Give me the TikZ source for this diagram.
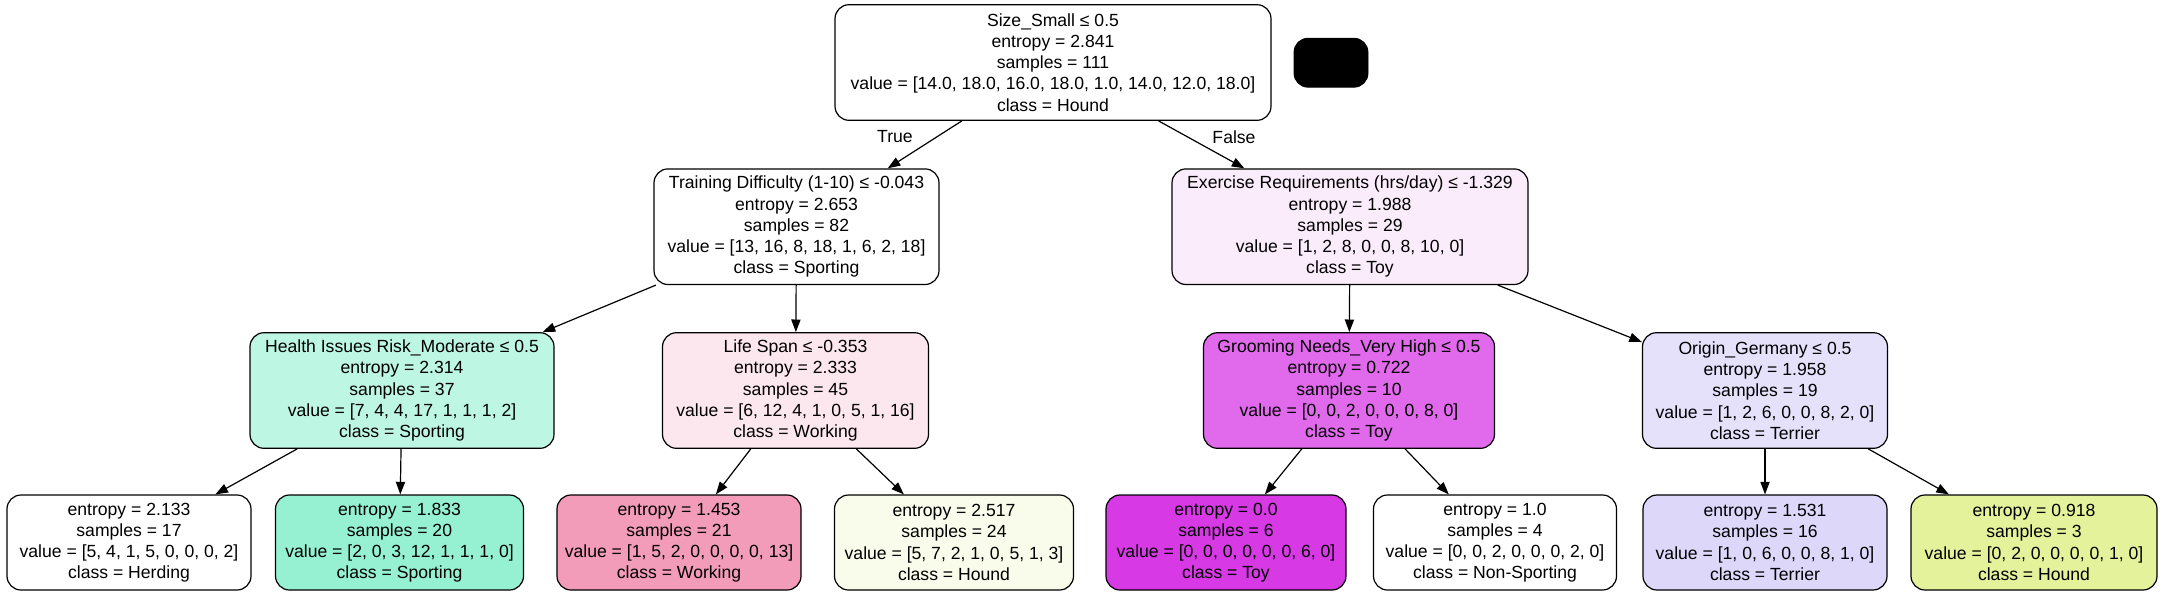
\documentclass[tikz,border=0pt]{standalone}
\usepackage{fontspec}
\setmainfont{Liberation Sans}
\usetikzlibrary{arrows.meta}
\newcommand\treefnt{\fontsize{8.8pt}{10.6pt}\selectfont}
\definecolor{cexer}{HTML}{FBECFC}
\definecolor{chealth}{HTML}{BDF6E3}
\definecolor{clife}{HTML}{FCE7EE}
\definecolor{cgroom}{HTML}{E16AEC}
\definecolor{corigin}{HTML}{E5E1FB}
\definecolor{cleafb}{HTML}{96F1D3}
\definecolor{cleafc}{HTML}{F29CB9}
\definecolor{cleafd}{HTML}{F9FCEA}
\definecolor{cleafe}{HTML}{D739E5}
\definecolor{cleafg}{HTML}{DDD7FA}
\definecolor{cleafh}{HTML}{E3F29B}
\begin{document}
\begin{tikzpicture}[x=0.5pt,y=-0.5pt,
  tnode/.style={draw, rounded corners=7pt, line width=0.6pt, align=center,
    font=\treefnt, inner sep=0pt, fill=white},
  inner/.style={tnode, minimum height=57.8pt},
  leaf/.style={tnode, minimum height=47.5pt},
  edge/.style={draw, line width=0.6pt, -{Triangle[length=6.3pt,width=4.6pt]}},
  elabel/.style={font=\treefnt, inner sep=0pt}]
\useasboundingbox (0,0) rectangle (2163,596);
% root
\node[inner, minimum width=218pt] (root) at (1053,62.5)
  {Size\_Small ≤ 0.5\\entropy = 2.841\\samples = 111\\value = [14.0, 18.0, 16.0, 18.0, 1.0, 14.0, 12.0, 18.0]\\class = Hound};
\node[draw, fill=black, rounded corners=7pt, minimum width=37pt, minimum height=24.5pt, inner sep=0pt] (blk) at (1331,62.7) {};
% level 1
\node[inner, minimum width=142.5pt] (train) at (796.5,226.7)
  {Training Difficulty (1-10) ≤ -0.043\\entropy = 2.653\\samples = 82\\value = [13, 16, 8, 18, 1, 6, 2, 18]\\class = Sporting};
\node[inner, minimum width=178pt, fill=cexer] (exer) at (1350,226.7)
  {Exercise Requirements (hrs/day) ≤ -1.329\\entropy = 1.988\\samples = 29\\value = [1, 2, 8, 0, 0, 8, 10, 0]\\class = Toy};
% level 2
\node[inner, minimum width=152pt, fill=chealth] (health) at (402,390.5)
  {Health Issues Risk\_Moderate ≤ 0.5\\entropy = 2.314\\samples = 37\\value = [7, 4, 4, 17, 1, 1, 1, 2]\\class = Sporting};
\node[inner, minimum width=133pt, fill=clife] (life) at (795.5,390.5)
  {Life Span ≤ -0.353\\entropy = 2.333\\samples = 45\\value = [6, 12, 4, 1, 0, 5, 1, 16]\\class = Working};
\node[inner, minimum width=145.5pt, fill=cgroom] (groom) at (1349,390.5)
  {Grooming Needs\_Very High ≤ 0.5\\entropy = 0.722\\samples = 10\\value = [0, 0, 2, 0, 0, 0, 8, 0]\\class = Toy};
\node[inner, minimum width=122.5pt, fill=corigin] (origin) at (1765,390.5)
  {Origin\_Germany ≤ 0.5\\entropy = 1.958\\samples = 19\\value = [1, 2, 6, 0, 0, 8, 2, 0]\\class = Terrier};
% leaves
\node[leaf, minimum width=122pt] (la) at (129,542.5)
  {entropy = 2.133\\samples = 17\\value = [5, 4, 1, 5, 0, 0, 0, 2]\\class = Herding};
\node[leaf, minimum width=124pt, fill=cleafb] (lb) at (399.5,542.5)
  {entropy = 1.833\\samples = 20\\value = [2, 0, 3, 12, 1, 1, 1, 0]\\class = Sporting};
\node[leaf, minimum width=122pt, fill=cleafc] (lc) at (679,542.5)
  {entropy = 1.453\\samples = 21\\value = [1, 5, 2, 0, 0, 0, 0, 13]\\class = Working};
\node[leaf, minimum width=119.5pt, fill=cleafd] (ld) at (954,542.5)
  {entropy = 2.517\\samples = 24\\value = [5, 7, 2, 1, 0, 5, 1, 3]\\class = Hound};
\node[leaf, minimum width=120pt, fill=cleafe] (le) at (1226,542.5)
  {entropy = 0.0\\samples = 6\\value = [0, 0, 0, 0, 0, 0, 6, 0]\\class = Toy};
\node[leaf, minimum width=121.5pt] (lf) at (1495,542.5)
  {entropy = 1.0\\samples = 4\\value = [0, 0, 2, 0, 0, 0, 2, 0]\\class = Non-Sporting};
\node[leaf, minimum width=122pt, fill=cleafg] (lg) at (1765,542.5)
  {entropy = 1.531\\samples = 16\\value = [1, 0, 6, 0, 0, 8, 1, 0]\\class = Terrier};
\node[leaf, minimum width=123pt, fill=cleafh] (lh) at (2034,542.5)
  {entropy = 0.918\\samples = 3\\value = [0, 2, 0, 0, 0, 0, 1, 0]\\class = Hound};
% edge labels
\node[elabel] (ltrue) at (895,137) {True};
\node[elabel] (lfalse) at (1234,137) {False};
% edges
\draw[edge] (root) -- (train);
\draw[edge] (root) -- (exer);
\draw[edge] (train) -- (health);
\draw[edge] (train) -- (life);
\draw[edge] (exer) -- (groom);
\draw[edge] (exer) -- (origin);
\draw[edge] (health) -- (la);
\draw[edge] (health) -- (lb);
\draw[edge] (life) -- (lc);
\draw[edge] (life) -- (ld);
\draw[edge] (groom) -- (le);
\draw[edge] (groom) -- (lf);
\draw[edge] (origin) -- (lg);
\draw[edge] (origin) -- (lh);
\end{tikzpicture}
\end{document}
